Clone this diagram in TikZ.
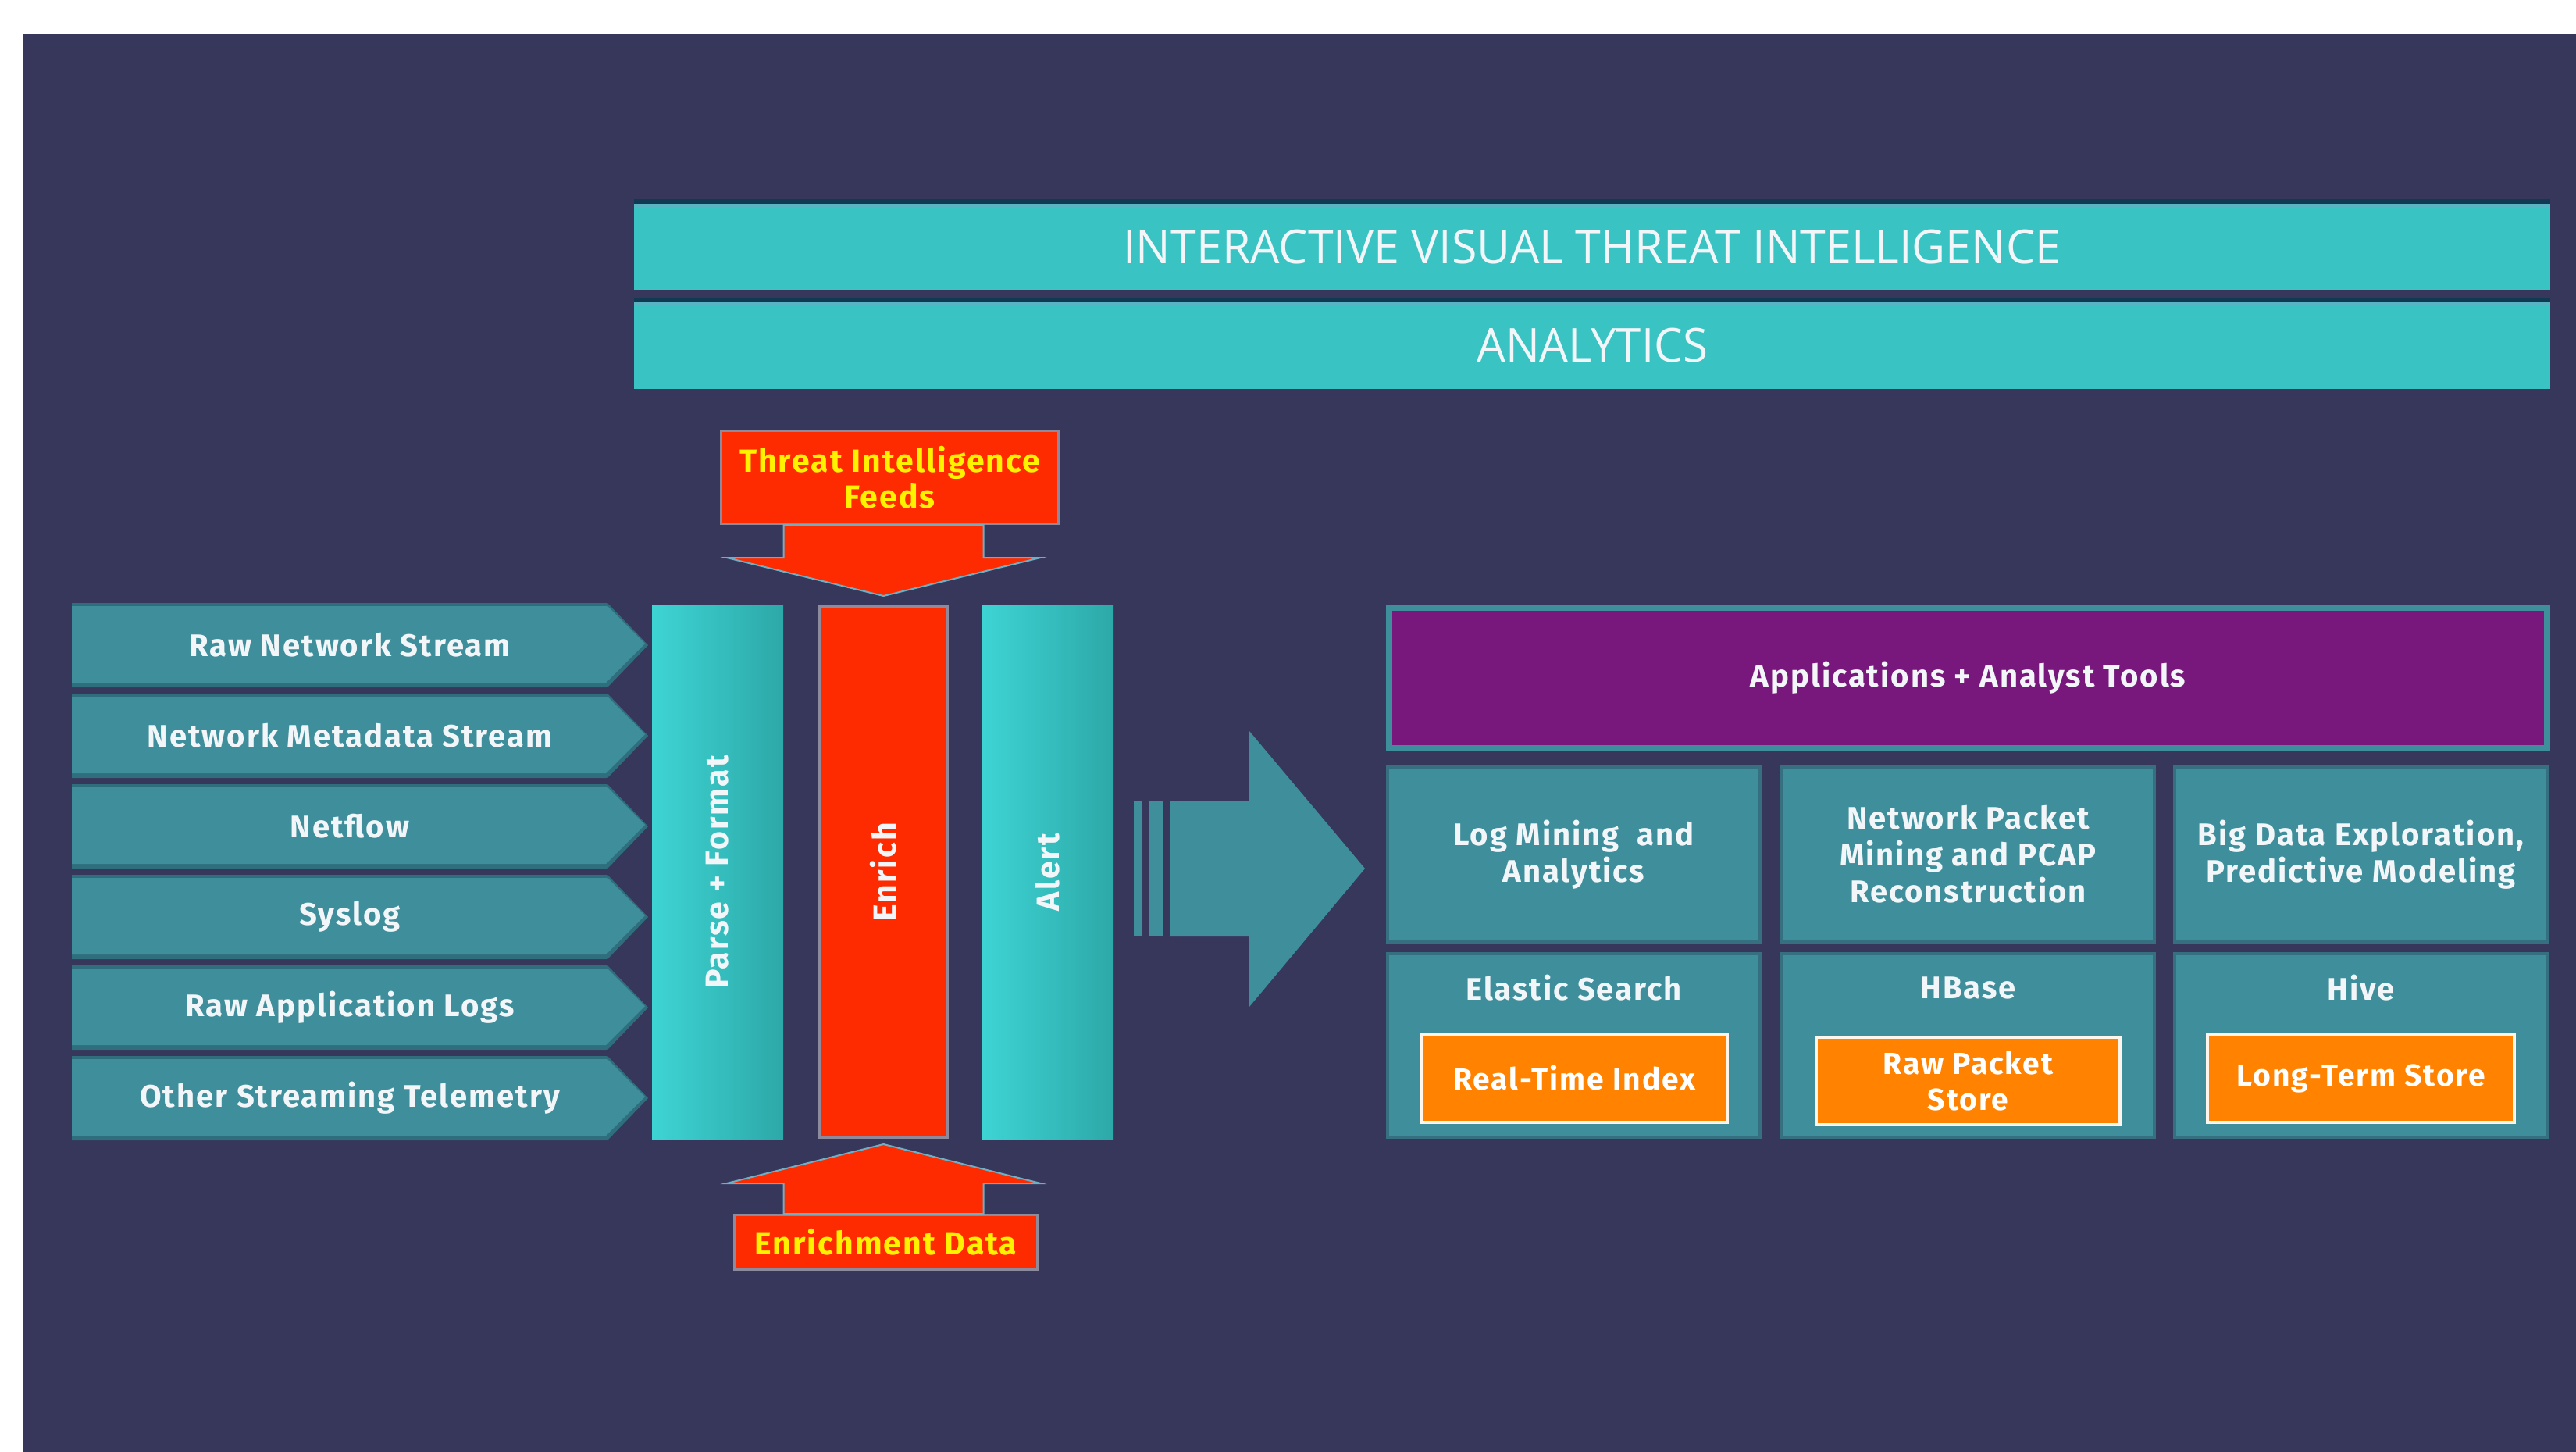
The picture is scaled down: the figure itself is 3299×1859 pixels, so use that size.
\documentclass[tikz,border=0pt]{standalone}
\usepackage{fontspec}
\setmainfont{Fira Sans}
\newfontfamily\lblfont[LetterSpace=5]{Fira Sans}
\newfontfamily\titlefont{Open Sans}
\usetikzlibrary{calc}

\definecolor{bgnavy}{HTML}{37365B}
\definecolor{barteal}{HTML}{39C3C3}
\definecolor{barshadow}{HTML}{0F3A52}
\definecolor{barrim}{HTML}{5AB3C2}
\definecolor{tileteal}{HTML}{3F8E9B}
\definecolor{tiledark}{HTML}{2F6F7D}
\definecolor{tileedge}{HTML}{356F80}
\definecolor{collight}{HTML}{3ED4D4}
\definecolor{coldark}{HTML}{2DA8A8}
\definecolor{hotred}{HTML}{FF2B00}
\definecolor{rimgray}{HTML}{8C8A9C}
\definecolor{rimblue}{HTML}{6FAFC4}
\definecolor{feedyellow}{HTML}{FFF200}
\definecolor{appurple}{HTML}{78187D}
\definecolor{storeorange}{HTML}{FF8200}
\definecolor{paletext}{HTML}{F2F6F8}

\begin{document}
\begin{tikzpicture}[x=1pt,y=-1pt,
  topbar/.style={fill=barteal, inner sep=0pt, text=paletext,
    font=\titlefont\fontsize{60}{70}\selectfont},
  chevlabel/.style={text=paletext, font=\lblfont\bfseries\fontsize{40}{46}\selectfont},
  colbox/.style={inner sep=0pt, left color=collight, right color=coldark},
  collabel/.style={rotate=90, text=paletext, font=\lblfont\bfseries\fontsize{41}{46}\selectfont},
  feedbox/.style={fill=hotred, draw=rimgray, line width=3pt, inner sep=0pt,
    align=center, text=feedyellow, font=\lblfont\bfseries\fontsize{41}{46}\selectfont},
  redarrow/.style={fill=hotred, draw=rimblue, line width=2pt, line join=miter},
  tile/.style={fill=tileteal, draw=tileedge, line width=4pt, inner sep=0pt,
    align=center, text=paletext, font=\lblfont\bfseries\fontsize{40}{47}\selectfont},
  tiletext/.style={align=center, text=paletext, font=\lblfont\bfseries\fontsize{40}{47}\selectfont},
  store/.style={fill=storeorange, draw=white!92!storeorange, line width=4pt,
    inner sep=0pt, align=center, text=white, font=\lblfont\bfseries\fontsize{39}{46}\selectfont}
]
\useasboundingbox (0,0) rectangle (3299,1859);
\fill[white] (0,0) rectangle (3299,1859);
\fill[bgnavy] (29,43) rectangle (3299,1859);

% ---- title bars ----
\fill[barshadow] (812,255) rectangle (3266,261);
\node[topbar, minimum width=2454, minimum height=110] (vti) at (2039,316)
  {\scalebox{0.985}[1]{INTERACTIVE VISUAL THREAT INTELLIGENCE}};
\fill[barrim] (812,261) rectangle (3266,265);
\fill[barshadow] (812,381) rectangle (3266,387);
\node[topbar, minimum width=2454, minimum height=110] (analytics) at (2039,442.5)
  {\scalebox{0.97}[1]{ANALYTICS}};
\fill[barrim] (812,387) rectangle (3266,391);

% ---- incoming data streams ----
\foreach \top/\lab [count=\k] in {772/Raw Network Stream, 888/Network Metadata Stream,
    1004/Netflow, 1120/Syslog, 1236/Raw Application Logs, 1352/Other Streaming Telemetry}{
  \fill[tiledark] (92,\top) -- (778,\top) -- (830,{\top+54}) -- (778,{\top+108})
     -- (92,{\top+108}) -- cycle;
  \fill[tileteal] (92,{\top+4}) -- (778,{\top+4}) -- (826,{\top+52}) -- (776,{\top+102})
     -- (92,{\top+102}) -- cycle;
  \node[chevlabel] (src\k) at (448,{\top+54}) {\lab};
}

% ---- processing columns ----
\node[colbox, minimum width=168, minimum height=683] (parse) at (919,1116.5) {};
\node[collabel] (parselab) at (parse) {Parse + Format};
\node[fill=hotred, draw=rimgray, line width=3pt, inner sep=0pt,
  minimum width=164, minimum height=680] (enrich) at (1131.5,1116.5) {};
\node[collabel] (enrichlab) at (enrich) {Enrich};
\node[colbox, minimum width=169, minimum height=683] (alert) at (1341.5,1116.5) {};
\node[collabel] (alertlab) at (alert) {Alert};

% ---- feeds into the enrich stage ----
\node[feedbox, minimum width=432, minimum height=119] (feeds) at (1139.5,611)
  {Threat Intelligence\\Feeds};
\draw[redarrow] ($(feeds.south -| enrich.north)+(-128,0)$) -- ++(0,42) -- ++(-73,0)
  -- ($(enrich.north)+(0,-12)$) -- ($(feeds.south -| enrich.north)+(201,42)$)
  -- ++(-73,0) -- ++(0,-42) -- cycle;

\node[feedbox, minimum width=388, minimum height=70] (edata) at (1134.5,1590.5)
  {Enrichment Data};
\draw[redarrow] ($(edata.north -| enrich.south)+(-128,0)$) -- ++(0,-39) -- ++(-73,0)
  -- ($(enrich.south)+(0,7)$) -- ($(edata.north -| enrich.south)+(201,-39)$)
  -- ++(-73,0) -- ++(0,39) -- cycle;

% ---- hand-off arrow to the application tier ----
\coordinate (flowstart) at (1452,1112);
\coordinate (flowtip) at (1748,1112);
\fill[tileteal] ($(flowstart)+(0,-87)$) rectangle ($(flowstart)+(10,87)$);
\fill[tileteal] ($(flowstart)+(19,-87)$) rectangle ($(flowstart)+(38,87)$);
\fill[tileteal] ($(flowstart)+(47,-87)$) -- ($(flowtip)+(-148,-87)$) -- ($(flowtip)+(-148,-176)$)
  -- (flowtip) -- ($(flowtip)+(-148,177)$) -- ($(flowtip)+(-148,87)$)
  -- ($(flowstart)+(47,87)$) -- cycle;

% ---- application tier ----
\node[fill=appurple, draw=tileteal, line width=8pt, inner sep=0pt, text=paletext,
  font=\lblfont\bfseries\fontsize{40}{46}\selectfont,
  minimum width=1483, minimum height=180] (apps) at (2520.5,868)
  {Applications + Analyst Tools};

\node[tile, minimum width=477, minimum height=224] (logmine) at (2015.5,1094)
  {Log Mining\ \ and\\Analytics};
\node[tile, minimum width=477, minimum height=224] (pcap) at (2520.5,1094)
  {Network Packet\\Mining and PCAP\\Reconstruction};
\node[tile, minimum width=477, minimum height=224] (bigdata) at (3023.5,1094)
  {Big Data Exploration,\\Predictive Modeling};

\node[tile, minimum width=477, minimum height=235] (es) at (2015.5,1338.5) {};
\node[tile, minimum width=477, minimum height=235] (hbase) at (2520.5,1338.5) {};
\node[tile, minimum width=477, minimum height=235] (hive) at (3023.5,1338.5) {};
\node[tiletext] (eslab) at (2015.5,1265) {Elastic Search};
\node[tiletext] (hbaselab) at (2520.5,1265) {HBase};
\node[tiletext] (hivelab) at (3023.5,1265) {Hive};

\node[store, minimum width=391, minimum height=113] (rti) at (2016.5,1380.5) {Real-Time Index};
\node[store, minimum width=389, minimum height=112] (rps) at (2520.5,1384) {Raw Packet\\Store};
\node[store, minimum width=393, minimum height=113] (lts) at (3023.5,1380.5) {Long-Term Store};
\end{tikzpicture}
\end{document}
